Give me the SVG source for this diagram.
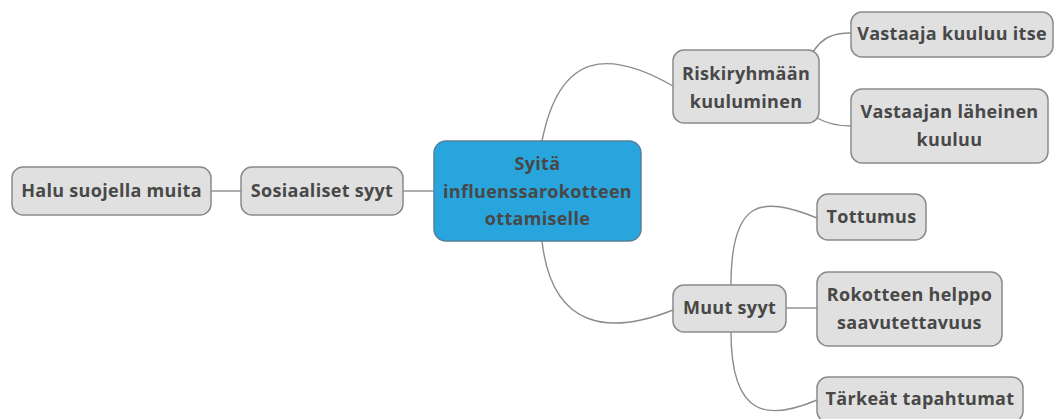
<svg xmlns="http://www.w3.org/2000/svg" width="1058" height="419" viewBox="0 0 1058 419">
<style>
.n rect{fill:#e0e0e0;stroke:#8a8a8a;stroke-width:1.5}
.c rect{fill:#28a5dd;stroke:#55809c;stroke-width:1.5}
text{font-family:"Open Sans","Noto Sans","DejaVu Sans",sans-serif;font-weight:bold;font-size:18px;letter-spacing:0.3px;fill:#484848;text-anchor:middle}
.e path{fill:none;stroke:#8c8c8c;stroke-width:1.4}
</style>
<rect width="1058" height="419" fill="#ffffff"/>
<g class="e" id="connectors">
<path d="M542,141 C560,50 610,50 673,86"/>
<path d="M542,241 C552,330 610,335 673,310"/>
<path d="M434,191 L403,191"/>
<path d="M241,191 L211,191"/>
<path d="M813,52 C822,38 832,33 851,33"/>
<path d="M817,118 C828,124 838,126 851,126"/>
<path d="M731,285 C731,200 760,195 817,218"/>
<path d="M786,308 L817,308"/>
<path d="M731,332 C731,420 770,420 817,400"/>
</g>
<g class="c" id="center">
<rect x="434" y="141" width="207" height="100" rx="12"/>
<text x="537.5" y="170">Syitä</text>
<text x="537.5" y="198">influenssarokotteen</text>
<text x="537.5" y="225">ottamiselle</text>
</g>
<g class="n" id="riski">
<rect x="673" y="50" width="146" height="73" rx="11"/>
<text x="746" y="80">Riskiryhmään</text>
<text x="746" y="108">kuuluminen</text>
</g>
<g class="n" id="itse">
<rect x="851" y="12" width="202" height="45" rx="11"/>
<text x="952" y="40">Vastaaja kuuluu itse</text>
</g>
<g class="n" id="laheinen">
<rect x="851" y="89" width="197" height="74" rx="11"/>
<text x="949.5" y="118">Vastaajan läheinen</text>
<text x="949.5" y="146">kuuluu</text>
</g>
<g class="n" id="sosiaaliset">
<rect x="241" y="167" width="162" height="48" rx="11"/>
<text x="322" y="197">Sosiaaliset syyt</text>
</g>
<g class="n" id="halu">
<rect x="12" y="167" width="199" height="48" rx="11"/>
<text x="111.5" y="197">Halu suojella muita</text>
</g>
<g class="n" id="muut">
<rect x="673" y="285" width="113" height="47" rx="11"/>
<text x="729.5" y="314">Muut syyt</text>
</g>
<g class="n" id="tottumus">
<rect x="817" y="194" width="109" height="46" rx="11"/>
<text x="871.5" y="223">Tottumus</text>
</g>
<g class="n" id="rokotteen">
<rect x="817" y="272" width="185" height="74" rx="11"/>
<text x="909.5" y="301">Rokotteen helppo</text>
<text x="909.5" y="329">saavutettavuus</text>
</g>
<g class="n" id="tarkeat">
<rect x="817" y="377" width="206" height="45" rx="11"/>
<text x="920" y="405">Tärkeät tapahtumat</text>
</g>
</svg>
